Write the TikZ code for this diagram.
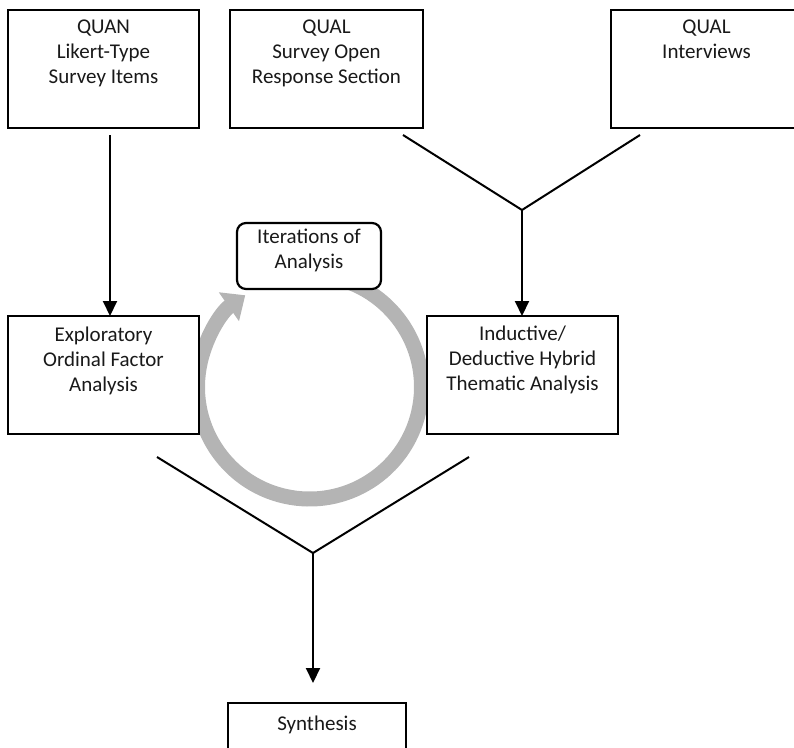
\documentclass[tikz,border=0pt]{standalone}
\usepackage{fontspec}
\setmainfont{Carlito}
\usetikzlibrary{arrows.meta}
\definecolor{ringgray}{RGB}{180,180,180}
\definecolor{txtgray}{RGB}{25,25,25}
\begin{document}
\begin{tikzpicture}[x=1pt,y=-1pt,
  box/.style={draw=black, line width=2.2pt, fill=white, inner sep=0pt, outer sep=0pt, anchor=north west},
  txt/.style={anchor=north, inner sep=0pt, align=center, text=txtgray, font=\fontsize{21}{25}\selectfont, execute at begin node=\strut},
  conn/.style={draw=black, line width=2pt},
  arr/.style={conn, -{Triangle[length=15pt,width=14pt]}},
  ringline/.style={draw=ringgray, line width=15pt, -{Triangle[length=20pt,width=34pt]}}]
\path[use as bounding box, clip] (0,0) rectangle (794,747);

% iteration ring (behind the boxes)
\coordinate (rc) at (309.5,387);
\draw[ringline] ([shift={(80:112pt)}]rc) arc[start angle=80, end angle=-235, radius=112pt];

% top boxes
\node[box, minimum width=191pt, minimum height=118pt] (quan) at (8,10) {};
\node[box, minimum width=193pt, minimum height=118pt] (qsurv) at (230,10) {};
\node[box, minimum width=191pt, minimum height=118pt] (qint) at (611,10) {};
\node[txt] (tquan) at ([yshift=-10pt]quan.north) {QUAN\\Likert-Type\\Survey Items};
\node[txt] (tqsurv) at ([yshift=-10pt]qsurv.north) {QUAL\\Survey Open\\Response Section};
\node[txt] (tqint) at ([yshift=-10pt]qint.north) {QUAL\\Interviews};

% middle boxes
\node[box, minimum width=191pt, minimum height=118pt] (efa) at (8,316) {};
\node[box, minimum width=191pt, minimum height=118pt] (tha) at (427,316) {};
\node[txt] (tefa) at ([yshift=-10.5pt]efa.north) {Exploratory\\Ordinal Factor\\Analysis};
\node[txt] (ttha) at ([yshift=-10pt]tha.north) {Inductive/\\Deductive Hybrid\\Thematic Analysis};

% iterations box
\node[box, rounded corners=9pt, minimum width=144pt, minimum height=66pt] (iter) at (237,223) {};
\node[txt] (titer) at ([yshift=-6pt]iter.north) {Iterations of\\Analysis};

% synthesis box
\node[box, minimum width=178pt, minimum height=70pt] (syn) at (228,703) {};
\node[txt] (tsyn) at ([yshift=-9.5pt]syn.north) {Synthesis};

% connectors
\coordinate (s1) at (110,135);
\draw[arr] (s1) -- (s1 |- efa.north);

\coordinate (m1) at (403,135);
\coordinate (m2) at (640,135);
\coordinate (j1) at (522,210);
\draw[conn] (m1) -- (j1) -- (m2);
\draw[arr] (j1) -- (j1 |- tha.north);

\coordinate (b1) at (157,457);
\coordinate (b2) at (469,457);
\coordinate (j2) at (313,553);
\coordinate (t2) at (313,683);
\draw[conn] (b1) -- (j2) -- (b2);
\draw[arr] (j2) -- (t2);
\end{tikzpicture}
\end{document}
